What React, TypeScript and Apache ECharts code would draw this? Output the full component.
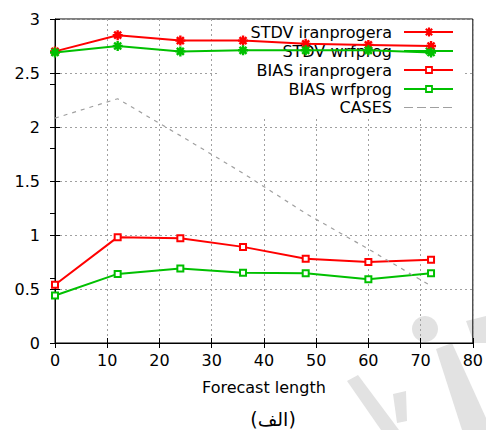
import React, { useEffect, useRef } from "react";
import * as echarts from "echarts";

const forecastHours = [0, 12, 24, 36, 48, 60, 72];
const stdvIranprogera = [2.7, 2.85, 2.8, 2.8, 2.77, 2.76, 2.75];
const stdvWrfprog = [2.69, 2.75, 2.7, 2.71, 2.71, 2.71, 2.69];
const biasIranprogera = [0.54, 0.98, 0.97, 0.89, 0.78, 0.75, 0.77];
const biasWrfprog = [0.44, 0.64, 0.69, 0.65, 0.645, 0.59, 0.645];
const cases = [347, 377, 320, 262, 200, 145, 88];

const seriesNames = ["STDV iranprogera", "STDV wrfprog", "BIAS iranprogera", "BIAS wrfprog", "CASES"];
const xTicks = { min: 0, max: 80, interval: 10 };
const yTicks = { min: 0, max: 3, interval: 0.5 };
const y2Ticks = { min: 0, max: 500, interval: 100 };

const RED = "#ff0000";
const GREEN = "#00c000";
const GRAY = "#a0a0a0";
const FONT = "DejaVu Sans";

const STAR_D =
  "M0 3.8 L10 3.8 L10 6.2 L0 6.2 Z M3.8 0 L6.2 0 L6.2 10 L3.8 10 Z M2.35 0.65 L9.35 7.65 L7.65 9.35 L0.65 2.35 Z M7.65 0.65 L9.35 2.35 L2.35 9.35 L0.65 7.65 Z";

let registered = false;
function registerStar() {
  if (registered) return;
  echarts.graphic.registerShape("starmark", echarts.graphic.extendPath(STAR_D, {}));
  registered = true;
}

export default function App() {
  const ref = useRef<HTMLDivElement>(null);
  useEffect(() => {
    if (!ref.current) return;
    registerStar();
    const chart = echarts.init(ref.current, null, { renderer: "svg" });
    const pair = (ys: number[]) => forecastHours.map((x, i) => [x, ys[i]]);

    const legendRows = [32, 51, 70, 89, 107.5];
    const legendColors = [RED, GREEN, RED, GREEN, GRAY];
    const legendEls: any[] = [];
    legendRows.forEach((y, i) => {
      legendEls.push({
        type: "text",
        z: 1,
        x: 392,
        y,
        style: {
          text: seriesNames[i],
          fill: "#000",
          font: `16px "${FONT}"`,
          textAlign: "right",
          textVerticalAlign: "middle",
        },
      });
      legendEls.push({
        type: "line",
        z: 1,
        shape: { x1: 404, y1: y, x2: 453, y2: y },
        style: {
          stroke: legendColors[i],
          lineWidth: i === 4 ? 1.2 : 2,
          lineDash: i === 4 ? [9, 4] : null,
        },
      });
      if (i < 2) {
        legendEls.push({
          type: "starmark",
          z: 1,
          x: 429 - 4.5,
          y: y - 4.5,
          scaleX: 0.9,
          scaleY: 0.9,
          style: { fill: legendColors[i] },
        });
      } else if (i < 4) {
        legendEls.push({
          type: "rect",
          z: 1,
          shape: { x: 426, y: y - 3, width: 6, height: 6 },
          style: { fill: "#fff", stroke: legendColors[i], lineWidth: 1.8 },
        });
      }
    });

    const wm = "#e2e2e2";
    const watermark: any[] = [
      { type: "circle", z: -1, shape: { cx: 425, cy: 329, r: 13 }, style: { fill: wm } },
      { type: "polygon", z: -1, shape: { points: [[347, 381], [358, 375], [399, 430], [381, 430]] }, style: { fill: wm } },
      { type: "polygon", z: -1, shape: { points: [[393, 394], [406, 391], [407, 421], [397, 423]] }, style: { fill: wm } },
      { type: "polygon", z: -1, shape: { points: [[436, 349], [452, 343], [486, 418], [486, 430], [462, 430]] }, style: { fill: wm } },
      { type: "polygon", z: -1, shape: { points: [[466, 321], [486, 316], [486, 343], [474, 343]] }, style: { fill: wm } },
    ];

    const axisCommonTick = { show: true, inside: true, length: 5, lineStyle: { color: "#000", width: 1 } };

    chart.setOption({
      animation: false,
      backgroundColor: "#fff",
      grid: { left: 55, right: 11, top: 19, bottom: 87, show: true, borderColor: "#000", borderWidth: 1, backgroundColor: "transparent" },
      xAxis: [
        {
          type: "value",
          position: "bottom",
          ...xTicks,
          axisLine: { show: true, onZero: false, lineStyle: { color: "#000", width: 1 } },
          axisTick: axisCommonTick,
          axisLabel: { color: "#000", fontSize: 16, fontFamily: FONT, margin: 9 },
          splitLine: { show: true, lineStyle: { color: GRAY, type: [2, 3], width: 1 } },
          name: "Forecast length",
          nameLocation: "middle",
          nameGap: 36,
          nameTextStyle: { color: "#000", fontSize: 16, fontFamily: FONT },
        },
        {
          type: "value",
          position: "top",
          ...xTicks,
          axisLine: { show: false },
          axisTick: axisCommonTick,
          axisLabel: { show: false },
          splitLine: { show: false },
        },
      ],
      yAxis: [
        {
          type: "value",
          position: "left",
          ...yTicks,
          axisLine: { show: true, onZero: false, lineStyle: { color: "#000", width: 1 } },
          axisTick: axisCommonTick,
          axisLabel: { color: "#000", fontSize: 16, fontFamily: FONT, margin: 15 },
          splitLine: { show: true, lineStyle: { color: GRAY, type: [2, 3], width: 1 } },
        },
        {
          type: "value",
          position: "right",
          ...y2Ticks,
          axisLine: { show: false },
          axisTick: axisCommonTick,
          axisLabel: { show: false },
          splitLine: { show: false },
        },
        {
          type: "value",
          position: "right",
          ...yTicks,
          axisLine: { show: false },
          axisTick: axisCommonTick,
          axisLabel: { show: false },
          splitLine: { show: false },
        },
      ],
      graphic: [
        ...watermark,
        { type: "rect", z: 1, shape: { x: 217, y: 20, width: 246, height: 96 }, style: { fill: "#fff" } },
        ...legendEls,
        {
          type: "text",
          x: 273,
          y: 419,
          style: {
            text: "(الف)",
            fill: "#000",
            font: `19px "${FONT}"`,
            textAlign: "center",
            textVerticalAlign: "middle",
          },
        },
      ],
      series: [
        {
          name: seriesNames[0],
          type: "line",
          data: pair(stdvIranprogera),
          symbol: "path://" + STAR_D,
          symbolSize: 10,
          itemStyle: { color: RED },
          lineStyle: { color: RED, width: 2 },
        },
        {
          name: seriesNames[1],
          type: "line",
          data: pair(stdvWrfprog),
          symbol: "path://" + STAR_D,
          symbolSize: 10,
          itemStyle: { color: GREEN },
          lineStyle: { color: GREEN, width: 2 },
        },
        {
          name: seriesNames[2],
          type: "line",
          data: pair(biasIranprogera),
          symbol: "emptyRect",
          symbolSize: 6,
          itemStyle: { color: RED, borderColor: RED, borderWidth: 1.8 },
          lineStyle: { color: RED, width: 2 },
        },
        {
          name: seriesNames[3],
          type: "line",
          data: pair(biasWrfprog),
          symbol: "emptyRect",
          symbolSize: 6,
          itemStyle: { color: GREEN, borderColor: GREEN, borderWidth: 1.8 },
          lineStyle: { color: GREEN, width: 2 },
        },
        {
          name: seriesNames[4],
          type: "line",
          yAxisIndex: 1,
          data: pair(cases),
          symbol: "none",
          lineStyle: { color: GRAY, width: 1.2, type: [4, 5] },
        },
      ],
    });
    return () => chart.dispose();
  }, []);
  return <div ref={ref} style={{ width: 486, height: 430, position: "absolute", left: 0, top: 0 }} />;
}
